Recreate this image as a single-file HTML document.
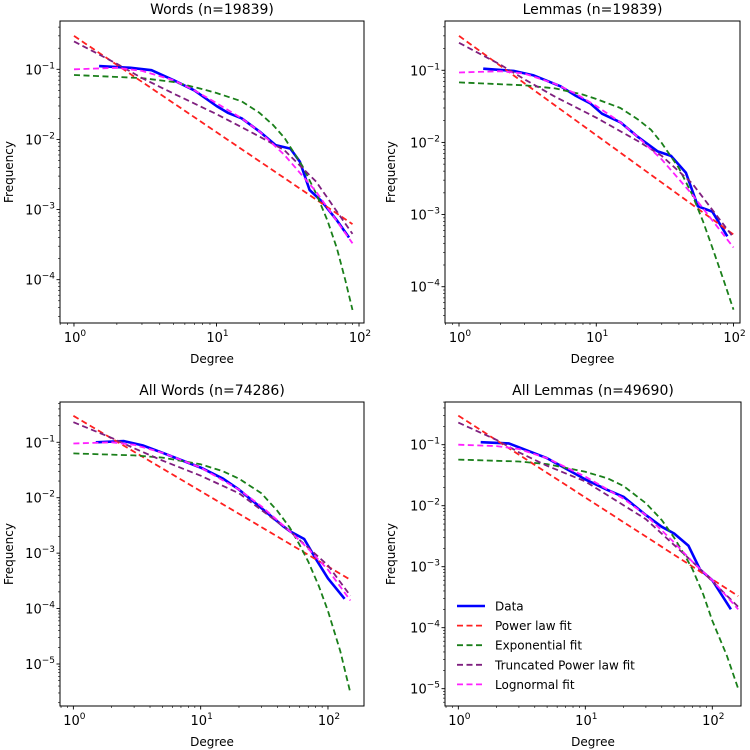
<!DOCTYPE html>
<html><head><meta charset="utf-8">
<style>
html,body{margin:0;padding:0;background:#fff;}
svg{display:block;font-family:"DejaVu Sans","Liberation Sans",sans-serif;}
</style></head>
<body>
<svg id="fig" width="750" height="750" viewBox="0 0 750 750" xmlns="http://www.w3.org/2000/svg"></svg>
<script>
// ---- data (degree, frequency) ----
const wordsDataX = [1.5,2.5,3.5,5,7,10,12,15,20,26,33,38.5,45,55,70,85];
const wordsDataY = [0.111,0.105,0.097,0.07,0.05,0.03,0.024,0.02,0.013,0.0083,0.0074,0.0048,0.0019,0.0013,0.0007,0.0004];
const wordsPowX = [1,90]; const wordsPowY = [0.3,0.00062];
const wordsExpX = [1,3,5,8,10,15,20,25,30,40,50,60,70,80,90];
const wordsExpY = [0.083,0.075,0.066,0.052,0.046,0.035,0.024,0.016,0.0105,0.0042,0.0017,0.0007,0.00028,0.0001,0.000037];
const wordsTplX = [1,2,3,5,10,20,30,50,90];
const wordsTplY = [0.25,0.12,0.075,0.045,0.023,0.011,0.007,0.0025,0.00045];
const wordsLnX = [1,2,3,5,7,10,15,20,30,50,90];
const wordsLnY = [0.1,0.105,0.095,0.07,0.05,0.033,0.02,0.013,0.006,0.0018,0.00033];

const lemmasDataX = [1.5,2.5,3.5,5.5,7,9,11,15,20,28,35,45,55,70,90];
const lemmasDataY = [0.105,0.098,0.085,0.06,0.045,0.035,0.025,0.019,0.012,0.0075,0.0065,0.0038,0.0013,0.0011,0.0005];
const lemmasPowX = [1,100]; const lemmasPowY = [0.3,0.00053];
const lemmasExpX = [1,3,5,8,10,15,20,25,30,40,50,60,70,85,100];
const lemmasExpY = [0.068,0.062,0.056,0.046,0.04,0.03,0.021,0.015,0.0098,0.0044,0.0019,0.0008,0.00035,0.00012,0.000048];
const lemmasTplX = [1,2,3,5,10,20,30,50,100];
const lemmasTplY = [0.24,0.12,0.075,0.043,0.022,0.0105,0.0065,0.0027,0.00048];
const lemmasLnX = [1,2,3,5,7,10,15,20,30,50,100];
const lemmasLnY = [0.093,0.097,0.09,0.065,0.048,0.032,0.019,0.012,0.0058,0.0019,0.00035];

const allWordsDataX = [1.5,2.5,3.5,5,7,10,15,20,30,45,50,65,80,100,135];
const allWordsDataY = [0.1,0.105,0.088,0.065,0.048,0.035,0.022,0.014,0.0065,0.003,0.0025,0.0018,0.0008,0.00035,0.00015];
const allWordsPowX = [1,150]; const allWordsPowY = [0.3,0.00033];
const allWordsExpX = [1,3,5,10,15,20,30,40,50,60,70,85,100,125,150];
const allWordsExpY = [0.063,0.058,0.053,0.04,0.03,0.022,0.012,0.0058,0.0029,0.0014,0.0007,0.00025,0.00009,0.000017,0.000003];
const allWordsTplX = [1,2,3,5,10,20,50,100,150];
const allWordsTplY = [0.23,0.12,0.078,0.047,0.025,0.012,0.0025,0.0006,0.00017];
const allWordsLnX = [1,2,3,5,10,20,30,50,70,100,150];
const allWordsLnY = [0.095,0.1,0.09,0.065,0.035,0.014,0.007,0.0025,0.0012,0.0005,0.00014];

const allLemmasDataX = [1.5,2.5,3.5,5,10,15,20,30,40,50,65,80,100,140];
const allLemmasDataY = [0.11,0.105,0.08,0.06,0.027,0.018,0.014,0.007,0.0045,0.0035,0.0022,0.0009,0.0006,0.0002];
const allLemmasPowX = [1,160]; const allLemmasPowY = [0.3,0.00033];
const allLemmasExpX = [1,3,5,10,15,20,30,40,50,60,70,85,100,130,160];
const allLemmasExpY = [0.057,0.053,0.048,0.036,0.028,0.021,0.011,0.0058,0.003,0.0016,0.0009,0.00035,0.00013,0.000035,0.00001];
const allLemmasTplX = [1,2,3,5,10,30,70,160];
const allLemmasTplY = [0.23,0.12,0.075,0.045,0.025,0.006,0.0012,0.00022];
const allLemmasLnX = [1,2,3,5,10,20,30,50,70,100,160];
const allLemmasLnY = [0.1,0.095,0.085,0.06,0.03,0.013,0.007,0.0025,0.0012,0.0006,0.0002];

const panelTitles = ["Words (n=19839)","Lemmas (n=19839)","All Words (n=74286)","All Lemmas (n=49690)"];
const legendLabels = ["Data","Power law fit","Exponential fit","Truncated Power law fit","Lognormal fit"];

const NS="http://www.w3.org/2000/svg";
const svg=document.getElementById('fig');
function mk(tag,attrs,parent){const e=document.createElementNS(NS,tag);for(const k in attrs)e.setAttribute(k,attrs[k]);(parent||svg).appendChild(e);return e;}

const panels=[
 {key:'words',L:60,R:364,T:21,B:323,x0:-0.098,x1:2.035,y0:-4.618,y1:-0.311,xt:[0,1,2],yt:[-4,-3,-2,-1],title:panelTitles[0],ylx:13,
  s:[wordsDataX,wordsDataY,wordsPowX,wordsPowY,wordsExpX,wordsExpY,wordsTplX,wordsTplY,wordsLnX,wordsLnY]},
 {key:'lemmas',L:445,R:740,T:21,B:323,x0:-0.102,x1:2.047,y0:-4.503,y1:-0.317,xt:[0,1,2],yt:[-4,-3,-2,-1],title:panelTitles[1],ylx:395,
  s:[lemmasDataX,lemmasDataY,lemmasPowX,lemmasPowY,lemmasExpX,lemmasExpY,lemmasTplX,lemmasTplY,lemmasLnX,lemmasLnY]},
 {key:'all-words',L:60,R:364,T:402,B:706,x0:-0.105,x1:2.283,y0:-5.758,y1:-0.273,xt:[0,1,2],yt:[-5,-4,-3,-2,-1],title:panelTitles[2],ylx:13,
  s:[allWordsDataX,allWordsDataY,allWordsPowX,allWordsPowY,allWordsExpX,allWordsExpY,allWordsTplX,allWordsTplY,allWordsLnX,allWordsLnY]},
 {key:'all-lemmas',L:445,R:741,T:402,B:706,x0:-0.105,x1:2.226,y0:-5.284,y1:-0.30,xt:[0,1,2],yt:[-5,-4,-3,-2,-1],title:panelTitles[3],ylx:395,legend:true,
  s:[allLemmasDataX,allLemmasDataY,allLemmasPowX,allLemmasPowY,allLemmasExpX,allLemmasExpY,allLemmasTplX,allLemmasTplY,allLemmasLnX,allLemmasLnY]}
];
const styles=[
 {c:'#0000ff',w:2.6,d:null,n:'data-line'},
 {c:'#ff2020',w:1.8,d:'6,3.5',n:'power-law-fit'},
 {c:'#1a7f1a',w:1.8,d:'6,3.5',n:'exponential-fit'},
 {c:'#7f1f7f',w:1.8,d:'6,3.5',n:'truncated-power-law-fit'},
 {c:'#ff20ff',w:1.8,d:'6,3.5',n:'lognormal-fit'}
];

panels.forEach(p=>{
 const g=mk('g',{});
 
 
 const sx=v=>p.L+(Math.log10(v)-p.x0)/(p.x1-p.x0)*(p.R-p.L);
 const sy=v=>p.B-(Math.log10(v)-p.y0)/(p.y1-p.y0)*(p.B-p.T);
 const cid='clip-'+p.key;
 const cp=mk('clipPath',{id:cid},g); mk('rect',{x:p.L,y:p.T,width:p.R-p.L,height:p.B-p.T},cp);
 const sg=mk('g',{'clip-path':'url(#'+cid+')'},g);
 [0,1,2,3,4].forEach(i=>{
  const xs=p.s[2*i], ys=p.s[2*i+1];
  const pts=xs.map((x,j)=>sx(x).toFixed(1)+','+sy(ys[j]).toFixed(1)).join(' ');
  const st=styles[i];
  const pl=mk('polyline',{points:pts,fill:'none',stroke:st.c,'stroke-width':st.w,'stroke-linejoin':'round'},sg);
  if(st.d) pl.setAttribute('stroke-dasharray',st.d);
  
  
 });
 const fr=mk('rect',{x:p.L,y:p.T,width:p.R-p.L,height:p.B-p.T,fill:'none',stroke:'#000','stroke-width':1},g);
 
 
 for(let d=Math.floor(p.x0);d<=Math.ceil(p.x1);d++){
  for(let m=1;m<10;m++){
   const lv=d+Math.log10(m); if(lv<p.x0||lv>p.x1) continue;
   const x=sx(Math.pow(10,lv));
   mk('line',{x1:x,x2:x,y1:p.B,y2:p.B+(m==1?3.5:2),stroke:'#000','stroke-width':m==1?0.9:0.6},g);
  }
 }
 p.xt.forEach(d=>{
  const t=mk('text',{x:sx(Math.pow(10,d))+1,y:p.B+19,'font-size':13,'text-anchor':'middle',fill:'#000'},g);
  
  
  t.textContent='10';
  const sp=mk('tspan',{dy:-6,'font-size':9},t); sp.textContent=String(d);
 });
 for(let d=Math.floor(p.y0);d<=Math.ceil(p.y1);d++){
  for(let m=1;m<10;m++){
   const lv=d+Math.log10(m); if(lv<p.y0||lv>p.y1) continue;
   const y=sy(Math.pow(10,lv));
   mk('line',{x1:p.L,x2:p.L-(m==1?3.5:2),y1:y,y2:y,stroke:'#000','stroke-width':m==1?0.9:0.6},g);
  }
 }
 p.yt.forEach(d=>{
  const y=sy(Math.pow(10,d));
  const t=mk('text',{x:p.L-5,y:y+5,'font-size':13,'text-anchor':'end',fill:'#000'},g);
  
  
  t.textContent='10';
  const sp=mk('tspan',{dy:-6,'font-size':9},t); sp.textContent='\u2212'+String(-d);
 });
 const tt=mk('text',{x:(p.L+p.R)/2,y:p.T-7,'font-size':14,'text-anchor':'middle',fill:'#000'},g);
   tt.textContent=p.title;
 const xl=mk('text',{x:(p.L+p.R)/2,y:p.B+40,'font-size':12,'text-anchor':'middle',fill:'#000'},g);
   xl.textContent='Degree';
 const yl=mk('text',{x:0,y:0,'font-size':12,'text-anchor':'middle',fill:'#000',transform:'translate('+p.ylx+','+((p.T+p.B)/2)+') rotate(-90)'},g);
   yl.textContent='Frequency';
 if(p.legend){
  const lg=mk('g',{},g);
   
  legendLabels.forEach((lab,i)=>{
   const y=606+i*19.6, st=styles[i];
   const e=mk('g',{},lg);
    
   const ln=mk('line',{x1:457,x2:485,y1:y,y2:y,stroke:st.c,'stroke-width':st.w},e);
   if(st.d) ln.setAttribute('stroke-dasharray',st.d);
   const t=mk('text',{x:495,y:y+4.5,'font-size':12,fill:'#000'},e); t.textContent=lab;
  });
 }
});
</script>
</body></html>
